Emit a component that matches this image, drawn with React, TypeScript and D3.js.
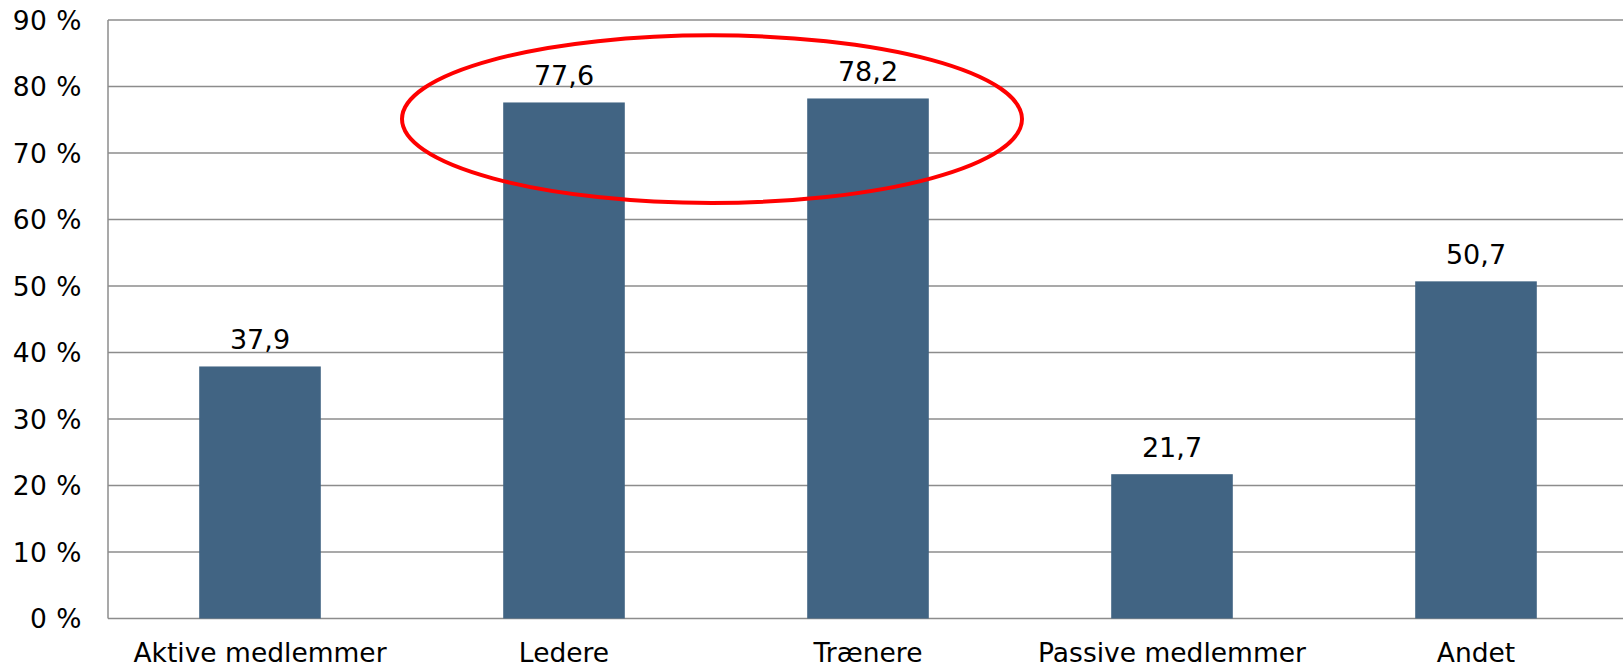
import React from "react";
import * as d3 from "d3";

const categories = ["Aktive medlemmer", "Ledere", "Trænere", "Passive medlemmer", "Andet"];
const values = [37.9, 77.6, 78.2, 21.7, 50.7];
const yTicks = [0, 10, 20, 30, 40, 50, 60, 70, 80, 90];
const highlighted = ["Ledere", "Trænere"];

const W = 1623;
const H = 668;
const left = 108;
const right = 1628;
const top = 20;
const bottom = 618.5;
const font = "'DejaVu Sans', Verdana, sans-serif";

export default function App() {
  const x = d3.scaleBand<string>().domain(categories).range([left, right]).paddingInner(0.6).paddingOuter(0.3);
  const y = d3.scaleLinear().domain([0, 90]).range([bottom, top]);
  const fmt = (v: number) => d3.format(".1f")(v).replace(".", ",");

  const h0 = x(highlighted[0])! + x.bandwidth() / 2;
  const h1 = x(highlighted[1])! + x.bandwidth() / 2;
  const ecx = (h0 + h1) / 2 - 4;
  const ecy = y(75.1);
  const erx = (h1 - h0) / 2 + 158;
  const ery = y(0) - y(12.6);

  return (
    <svg width={W} height={H} style={{ position: "absolute", left: 0, top: 0, background: "#fff" }}>
      {yTicks.map((t) => (
        <g key={t}>
          <line x1={left} x2={W} y1={y(t)} y2={y(t)} stroke="#8c8c8c" strokeWidth={1.5} />
          <text
            x={82}
            y={y(t)}
            dy="0.36em"
            textAnchor="end"
            fontFamily={font}
            fontSize={26.5}
            letterSpacing={0.5}
            fill="#000"
            style={{ whiteSpace: "pre" }}
          >
            {t + " %"}
          </text>
        </g>
      ))}
      <line x1={left} x2={left} y1={top} y2={bottom} stroke="#8c8c8c" strokeWidth={1.5} />
      {categories.map((c, i) => (
        <g key={c}>
          <rect x={x(c)!} y={y(values[i])} width={x.bandwidth()} height={y(0) - y(values[i])} fill="#416483" />
          <text
            x={x(c)! + x.bandwidth() / 2}
            y={y(values[i]) - 17}
            textAnchor="middle"
            fontFamily={font}
            fontSize={27}
            fill="#000"
          >
            {fmt(values[i])}
          </text>
          <text x={x(c)! + x.bandwidth() / 2} y={662} textAnchor="middle" fontFamily={font} fontSize={26.5} fill="#000">
            {c}
          </text>
        </g>
      ))}
      <ellipse cx={ecx} cy={ecy} rx={erx} ry={ery} fill="none" stroke="#ff0000" strokeWidth={4} />
    </svg>
  );
}
